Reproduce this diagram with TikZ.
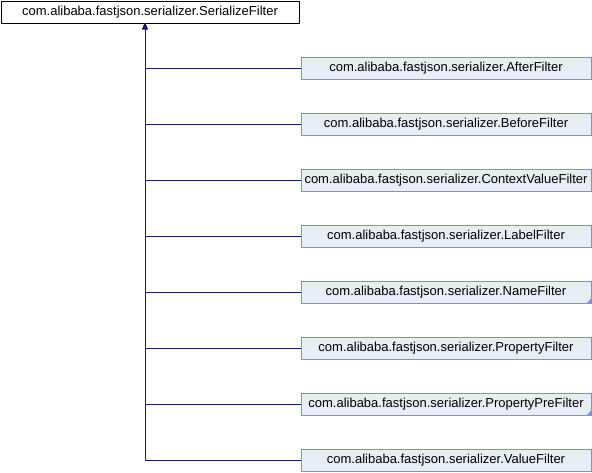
\documentclass[tikz,border=0pt]{standalone}
\usepackage{fontspec}
\setmainfont{Liberation Sans}
\usetikzlibrary{arrows.meta,positioning,calc}

\definecolor{boxfill}{HTML}{E8ECF5}
\definecolor{boxdraw}{HTML}{7F92CC}
\definecolor{edgeblue}{HTML}{191970}

\begin{document}
\begin{tikzpicture}[x=1pt, y=-1pt,
    base/.style={draw=black, fill=white, rectangle, line width=0.8pt, minimum width=298pt, minimum height=22pt, inner sep=0pt, font=\fontsize{13}{15}\selectfont},
    filter/.style={draw=boxdraw, fill=boxfill, rectangle, line width=0.8pt, minimum width=290pt, minimum height=22pt, inner sep=0pt, font=\fontsize{13}{15}\selectfont},
    edge/.style={-{Triangle[length=6pt,width=5pt]}, line width=0.8pt, draw=edgeblue},
    marker/.style={fill=boxdraw},
]
\useasboundingbox (0,0) rectangle (592,472);

% Base class
\node[base] (serialize) at (150, 12) {com.alibaba.fastjson.serializer.SerializeFilter};
\coordinate (trunk) at (145, 23);

% Subclasses
\node[filter] (after) at (446, 68) {com.alibaba.fastjson.serializer.AfterFilter};
\node[filter] (before) at (446, 124) {com.alibaba.fastjson.serializer.BeforeFilter};
\node[filter] (context) at (446, 180) {com.alibaba.fastjson.serializer.ContextValueFilter};
\node[filter] (label) at (446, 236) {com.alibaba.fastjson.serializer.LabelFilter};
\node[filter] (name) at (446, 292) {com.alibaba.fastjson.serializer.NameFilter};
\node[filter] (property) at (446, 348) {com.alibaba.fastjson.serializer.PropertyFilter};
\node[filter] (propertypre) at (446, 404) {com.alibaba.fastjson.serializer.PropertyPreFilter};
\node[filter] (value) at (446, 460) {com.alibaba.fastjson.serializer.ValueFilter};

% Incomplete graph markers
\fill[marker] (name.south east) -- ++(-5pt,0pt) -- ++(5pt,5pt) -- cycle;
\fill[marker] (propertypre.south east) -- ++(-5pt,0pt) -- ++(5pt,5pt) -- cycle;

% Inheritance
\draw[edge] (after.west) -| (trunk);
\draw[edge] (before.west) -| (trunk);
\draw[edge] (context.west) -| (trunk);
\draw[edge] (label.west) -| (trunk);
\draw[edge] (name.west) -| (trunk);
\draw[edge] (property.west) -| (trunk);
\draw[edge] (propertypre.west) -| (trunk);
\draw[edge] (value.west) -| (trunk);

\end{tikzpicture}
\end{document}
